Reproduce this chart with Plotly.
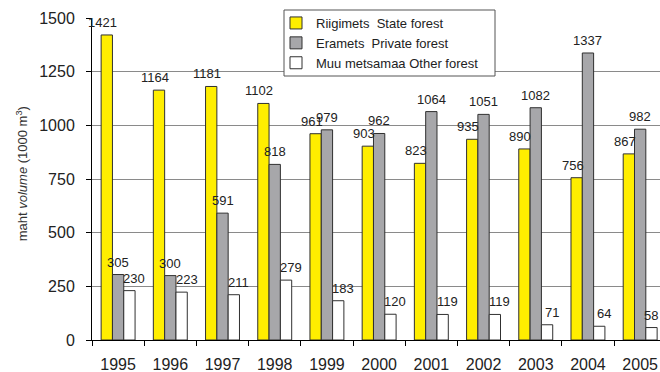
import plotly.graph_objects as go

years = ["1995", "1996", "1997", "1998", "1999", "2000", "2001", "2002", "2003", "2004", "2005"]
state = [1421, 1164, 1181, 1102, 961, 903, 823, 935, 890, 756, 867]
private = [305, 300, 591, 818, 979, 962, 1064, 1051, 1082, 1337, 982]
other = [230, 223, 211, 279, 183, 120, 119, 119, 71, 64, 58]

names = ["Riigimets\u00a0 State forest", "Eramets\u00a0 Private forest", "Muu metsamaa Other forest"]
colors = ["#FFEE00", "#A7A7AA", "#FFFFFF"]
series = [state, private, other]

FONT = "Arial, Liberation Sans, sans-serif"
bargap = 0.35
bw = (1 - bargap) / 3
label_xshift = [-4, 0, 5]

# geometry in page pixels (body margin removed in the page)
W, H = 660, 372
ML, MR, MT, MB = 92, 0, 18, 32
XR = [-0.5, 10.38]
plot_w = W - ML - MR
plot_h = H - MT - MB
px_per_cat = plot_w / (XR[1] - XR[0])

fig = go.Figure()
for s, (vals, name, col) in enumerate(zip(series, names, colors)):
    fig.add_trace(go.Bar(
        x=years, y=vals, name=name,
        marker=dict(color=col, line=dict(color="#303030", width=1)),
    ))

annotations = []
for s, vals in enumerate(series):
    off = (s - 1) * bw
    for i, v in enumerate(vals):
        xs = label_xshift[s]
        # keep labels inside the figure's right edge
        cx = (i + off - XR[0]) * px_per_cat + xs
        half = 4.0 * len(str(v))
        if cx + half > plot_w - 1:
            xs -= (cx + half) - (plot_w - 1)
        annotations.append(dict(
            x=i + off, y=v, xref="x", yref="y", text=str(v), showarrow=False,
            xanchor="center", yanchor="bottom", xshift=xs, yshift=3,
            font=dict(family=FONT, size=13, color="#222222"),
        ))

annotations.append(dict(
    x=-0.123, y=0.515, xref="paper", yref="paper", textangle=-90,
    text="maht <i>volume</i> (1000 m<sup>3</sup>)", showarrow=False,
    xanchor="center", yanchor="middle",
    font=dict(family=FONT, size=13, color="#333333"),
))

def px_x(p):
    return (p - ML) / plot_w

def px_y(p):
    return (H - MB - p) / plot_h

# legend box
shapes = [dict(
    type="rect", xref="paper", yref="paper",
    x0=px_x(284), x1=px_x(495), y0=px_y(76), y1=px_y(10),
    fillcolor="white", line=dict(color="#555555", width=1), layer="above",
)]

fig.update_layout(
    width=W, height=H,
    margin=dict(l=ML, r=MR, t=MT, b=MB),
    paper_bgcolor="white", plot_bgcolor="white",
    barmode="group", bargap=bargap, bargroupgap=0,
    font=dict(family=FONT, color="#222222"),
    showlegend=True,
    legend=dict(
        x=px_x(276), y=px_y(8), xanchor="left", yanchor="top",
        bgcolor="rgba(0,0,0,0)", borderwidth=0,
        font=dict(family=FONT, size=13, color="#222222"),
        tracegroupgap=0, itemclick=False,
    ),
    annotations=annotations,
    shapes=shapes,
)

fig.update_xaxes(
    type="category", range=XR, automargin=False,
    tickson="boundaries", ticks="outside", ticklen=5, tickcolor="black",
    showline=True, linecolor="black", linewidth=1,
    showgrid=False, tickfont=dict(family=FONT, size=16, color="#222222"),
    ticklabelstandoff=10,
)
fig.update_yaxes(
    range=[0, 1500], dtick=250, tick0=0, automargin=False,
    ticks="outside", ticklen=5, tickcolor="black",
    showline=True, linecolor="black", linewidth=1,
    showgrid=True, gridcolor="#8a8a8a", gridwidth=1,
    zeroline=False,
    tickfont=dict(family=FONT, size=16, color="#222222"),
    ticklabelstandoff=8,
)

fig.write_html(
    "out.html",
    config={"displayModeBar": False},
    post_script="document.documentElement.style.overflow='hidden';"
                "document.body.style.margin='0';document.body.style.overflow='hidden';",
)
